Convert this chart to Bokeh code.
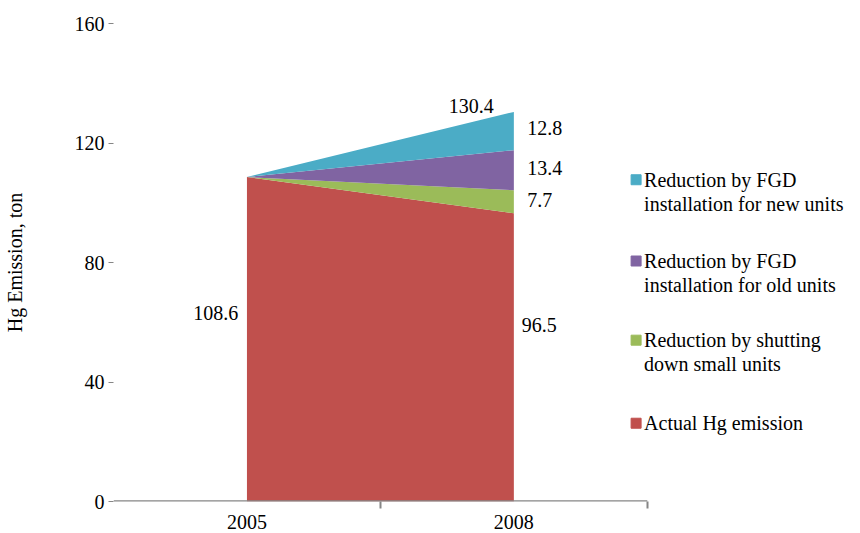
from bokeh.plotting import figure
from bokeh.models import ColumnDataSource, FixedTicker, Range1d
from bokeh.core.properties import value
from bokeh.embed import file_html
from bokeh.resources import INLINE

# ---- data ----
years = ["2005", "2008"]
actual = [108.6, 96.5]
shutting = [0.0, 7.7]
fgd_old = [0.0, 13.4]
fgd_new = [0.0, 12.8]
totals = [108.6, 130.4]
series_names = [
    ["Reduction by FGD", "installation for new units"],
    ["Reduction by FGD", "installation for old units"],
    ["Reduction by shutting", "down small units"],
    ["Actual Hg emission"],
]
y_ticks = [0, 40, 80, 120, 160]

colors = {"actual": "#C0504D", "shutting": "#9BBB59", "old": "#8064A2", "new": "#4BACC6"}
FONT = "Liberation Serif"
FS = "20px"

xpos = [0.5, 1.5]  # category centres
src = ColumnDataSource(dict(x=xpos, actual=actual, shutting=shutting, old=fgd_old, new=fgd_new))

W, H = 844, 531
LEFT = 110
UNIT = 268
p = figure(width=W, height=H, output_backend="svg", toolbar_location=None,
           x_range=Range1d(0, (W - LEFT) / UNIT), y_range=Range1d(0, 160),
           min_border_left=LEFT, min_border_right=0, min_border_top=23, min_border_bottom=25)
p.outline_line_color = None
p.xgrid.visible = False
p.ygrid.visible = False

p.varea_stack(stackers=["actual", "shutting", "old", "new"], x="x", source=src,
              color=[colors["actual"], colors["shutting"], colors["old"], colors["new"]])

# x axis baseline (only under the two categories)
p.segment(x0=[0], y0=[0], x1=[len(years)], y1=[0], line_color="#868686", line_width=2.5)

# axes
xa = p.xaxis[0]
xa.ticker = FixedTicker(ticks=xpos, minor_ticks=[1, 2])
xa.major_label_overrides = {0.5: years[0], 1.5: years[1]}
xa.axis_line_color = None
xa.major_tick_line_color = None
xa.major_tick_out = 0
xa.major_tick_in = 0
xa.minor_tick_line_color = "#868686"
xa.minor_tick_line_width = 2
xa.minor_tick_out = 7
xa.minor_tick_in = 0
xa.major_label_standoff = 6
xa.major_label_text_font = FONT
xa.major_label_text_font_size = FS
xa.major_label_text_color = "black"

ya = p.yaxis[0]
ya.ticker = FixedTicker(ticks=y_ticks)
ya.axis_line_color = None
ya.minor_tick_line_color = None
ya.major_tick_line_color = "#868686"
ya.major_tick_in = 0
ya.major_tick_out = 5
ya.major_label_standoff = 4
ya.major_label_text_font = FONT
ya.major_label_text_font_size = FS
ya.major_label_text_color = "black"
ya.axis_label = "Hg Emission, ton"
ya.axis_label_text_font = FONT
ya.axis_label_text_font_size = FS
ya.axis_label_text_font_style = "normal"
ya.axis_label_text_color = "black"
ya.axis_label_standoff = 46

# data labels
txt = dict(text_font=value(FONT), text_font_size=FS, text_color="black", text_baseline="middle")
p.text(x=[1.34], y=[totals[1] + 2.1], text=[f"{totals[1]:.1f}"], text_align="center", **txt)
b1 = actual[1] + shutting[1]
b2 = b1 + fgd_old[1]
b3 = b2 + fgd_new[1]
mids = [(b2 + b3) / 2 + 1, (b1 + b2) / 2 + 0.8, (actual[1] + b1) / 2 + 0.7]
vals = [fgd_new[1], fgd_old[1], shutting[1]]
p.text(x=[1.55] * 3, y=mids, text=[f"{v:.1f}" for v in vals], text_align="left", **txt)
p.text(x=[1.53], y=[59.0], text=[f"{actual[1]:.1f}"], text_align="left", **txt)
p.text(x=[0.467], y=[63.0], text=[f"{actual[0]:.1f}"], text_align="right", **txt)

# legend (drawn manually for two-line entries)
leg_colors = [colors["new"], colors["old"], colors["shutting"], colors["actual"]]
entry_y = [107.7, 80.5, 54.0, 26.2]
line_gap = 8.05
sq_x, tx_x = 1.958, 1.988
p.scatter(x=[sq_x] * 4, y=entry_y, marker="square", size=10, color=leg_colors)
lx, ly, lt = [], [], []
for names, y0 in zip(series_names, entry_y):
    for i, n in enumerate(names):
        lx.append(tx_x)
        ly.append(y0 - i * line_gap)
        lt.append(n)
p.text(x=lx, y=ly, text=lt, text_align="left", **txt)

open("out.html", "w").write(file_html(p, INLINE))
